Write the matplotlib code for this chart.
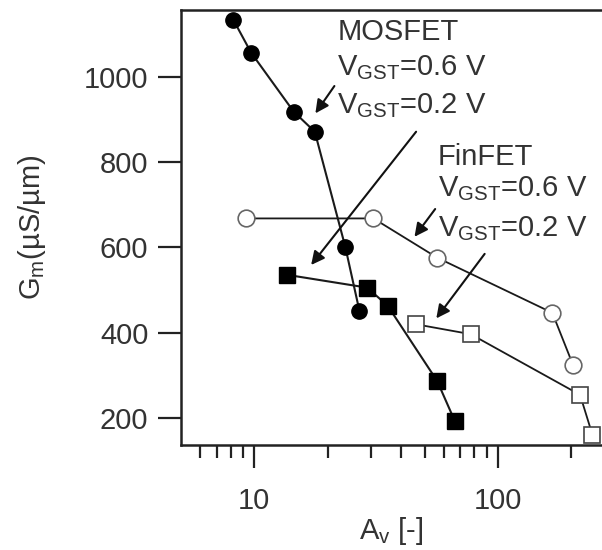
import matplotlib
matplotlib.use("Agg")
from matplotlib import pyplot as plt
from matplotlib.ticker import NullFormatter, FixedLocator
import numpy as np

plt.rcParams['font.family'] = ['Liberation Sans', 'DejaVu Sans']
plt.rcParams['mathtext.fontset'] = 'custom'
plt.rcParams['mathtext.rm'] = 'Liberation Sans'
plt.rcParams['mathtext.it'] = 'Liberation Sans'

# MOSFET, V_GST = 0.6 V (filled circles)
mos06_av = [8.2, 9.7, 14.5, 17.7, 23.6, 27.0]
mos06_gm = [1133, 1056, 918, 871, 602, 451]
# MOSFET, V_GST = 0.2 V (filled squares)
mos02_av = [13.6, 29.0, 35.2, 56.3, 66.4]
mos02_gm = [536, 506, 464, 287, 194]
# FinFET, V_GST = 0.6 V (open circles)
fin06_av = [9.2, 30.8, 56.3, 167, 203]
fin06_gm = [668, 668, 576, 447, 325]
# FinFET, V_GST = 0.2 V (open squares)
fin02_av = [46.2, 77.2, 217, 244]
fin02_gm = [420, 397, 255, 161]

x_major = [10, 100]
x_minor = [6, 7, 8, 9, 20, 30, 40, 50, 60, 70, 80, 90, 200]
y_ticks = [200, 400, 600, 800, 1000]

txt_col = '#333333'
line_col = '#1a1a1a'

fig = plt.figure(figsize=(6.02, 5.5), dpi=100)
ax = fig.add_axes([181/602, 105/550, 1 - 181/602, 435/550])

ax.plot(mos06_av, mos06_gm, '-o', color=line_col, lw=1.5, ms=11, mfc='black', mec='black')
ax.plot(mos02_av, mos02_gm, '-s', color=line_col, lw=1.5, ms=11.5, mfc='black', mec='black')
ax.plot(fin06_av, fin06_gm, '-o', color=line_col, lw=1.3, ms=12, mfc='white', mec='#666666', mew=1.2)
ax.plot(fin02_av, fin02_gm, '-s', color=line_col, lw=1.3, ms=12, mfc='white', mec='#444444', mew=1.2)

ax.set_xscale('log')
ax.set_xlim(5.0, 267)
ax.set_ylim(137.5, 1156)
ax.xaxis.set_major_locator(FixedLocator(x_major))
ax.xaxis.set_minor_locator(FixedLocator(x_minor))
ax.xaxis.set_minor_formatter(NullFormatter())
ax.set_xticklabels([str(v) for v in x_major])
ax.set_yticks(y_ticks)

ax.spines['right'].set_visible(False)
for s in ['left', 'bottom', 'top']:
    ax.spines[s].set_linewidth(1.8)
    ax.spines[s].set_color('#222222')

ax.tick_params(axis='both', which='major', direction='out', length=16.5, width=1.6,
               labelsize=21, labelcolor=txt_col, color='#222222')
ax.tick_params(axis='x', which='major', pad=14)
ax.tick_params(axis='y', which='major', pad=7)
ax.tick_params(axis='x', which='minor', direction='out', length=9, width=1.6, color='#222222')
ax.tick_params(axis='y', which='minor', length=0)

ax.set_xlabel(r'$\mathregular{A_v}$ [-]', fontsize=21, color=txt_col, labelpad=0)
ax.set_ylabel(r'$\mathregular{G_m}$(µS/µm)', fontsize=21, color=txt_col, labelpad=26)

fs = 21
ax.text(21.9, 1086, 'MOSFET', fontsize=fs, color=txt_col, va='baseline')
ax.text(21.9, 1004, r'$\mathregular{V_{GST}}$=0.6 V', fontsize=fs, color=txt_col, va='baseline')
ax.text(21.9, 915, r'$\mathregular{V_{GST}}$=0.2 V', fontsize=fs, color=txt_col, va='baseline')
ax.text(56.5, 793, 'FinFET', fontsize=fs, color=txt_col, va='baseline')
ax.text(56.5, 719, r'$\mathregular{V_{GST}}$=0.6 V', fontsize=fs, color=txt_col, va='baseline')
ax.text(56.5, 627, r'$\mathregular{V_{GST}}$=0.2 V', fontsize=fs, color=txt_col, va='baseline')

arrow = dict(arrowstyle='-|>', color='#111111', lw=1.5, mutation_scale=20, shrinkA=0, shrinkB=0)
ax.annotate('', xy=(17.8, 914), xytext=(21.3, 978), arrowprops=arrow)
ax.annotate('', xy=(17.1, 559), xytext=(46.1, 871), arrowprops=arrow)
ax.annotate('', xy=(45.4, 625), xytext=(55.2, 690), arrowprops=arrow)
ax.annotate('', xy=(55.8, 434), xytext=(88.1, 585), arrowprops=arrow)

fig.savefig('out.png', dpi=100)
